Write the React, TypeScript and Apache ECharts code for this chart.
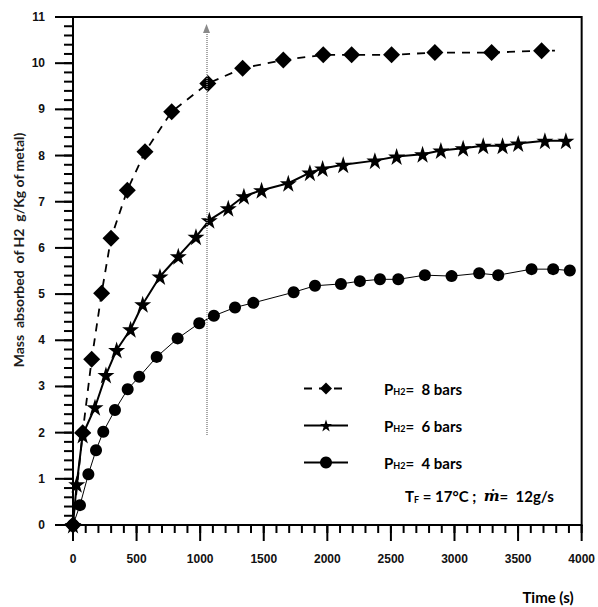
import React, { useEffect, useRef } from "react";
import * as echarts from "echarts";

// ---- data ----
const time8 = [0, 76, 147, 225, 299, 427, 566, 776, 1060, 1334, 1654, 1968, 2191, 2505, 2846, 3292, 3685];
const mass8 = [0, 2.0, 3.59, 5.02, 6.21, 7.25, 8.08, 8.95, 9.56, 9.89, 10.07, 10.18, 10.18, 10.18, 10.23, 10.23, 10.27];
const tail8 = [3790, 10.27];

const time6 = [0, 29, 76, 173, 259, 343, 453, 548, 684, 828, 967, 1072, 1221, 1344, 1483, 1693, 1863, 1963, 2125, 2374, 2545, 2749, 2893, 3068, 3226, 3378, 3501, 3711, 3876];
const mass6 = [0, 0.88, 1.95, 2.55, 3.25, 3.79, 4.24, 4.78, 5.38, 5.82, 6.24, 6.6, 6.86, 7.12, 7.25, 7.4, 7.63, 7.72, 7.8, 7.89, 7.98, 8.03, 8.11, 8.16, 8.21, 8.21, 8.26, 8.32, 8.32];

const time4 = [0, 55, 121, 181, 238, 330, 430, 521, 658, 823, 993, 1108, 1274, 1418, 1735, 1903, 2107, 2256, 2414, 2558, 2767, 2977, 3194, 3344, 3606, 3776, 3907];
const mass4 = [0, 0.43, 1.1, 1.62, 2.02, 2.49, 2.94, 3.21, 3.64, 4.04, 4.37, 4.53, 4.71, 4.81, 5.04, 5.18, 5.22, 5.28, 5.32, 5.32, 5.41, 5.39, 5.45, 5.41, 5.54, 5.54, 5.51];

const seriesNames = ["8 bars", "6 bars", "4 bars"];
const arrowTime = 1050;
const arrowFrom = 1.95;
const arrowTo = 10.75;

// axis ranges / tick steps
const xTicks = { min: 0, max: 4000, interval: 500, minorInterval: 100 };
const yTicks = { min: 0, max: 11, interval: 1, minorInterval: 0.2 };

const STAR = "path://M50,0 L61.8,35.3 L98.9,35.3 L68.9,57.2 L80.3,92.6 L50,70.7 L19.7,92.6 L31.1,57.2 L1.1,35.3 L38.2,35.3 Z";

const zip = (t: number[], v: number[]) => t.map((x, i) => [x, v[i]]);
const steps = (min: number, max: number, step: number) => {
  const out: number[] = [];
  const n = Math.round((max - min) / step);
  for (let i = 0; i <= n; i++) out.push(Math.round((min + i * step) * 1000) / 1000);
  return out;
};

export default function App() {
  const ref = useRef<HTMLDivElement>(null);
  useEffect(() => {
    if (!ref.current) return;
    const chart = echarts.init(ref.current, null, { renderer: "svg" });
    const calibri = "Lato, 'Open Sans', sans-serif";
    const tickFont = {
      margin: 28,
      color: "#111",
      fontFamily: "'Liberation Sans', Arial, sans-serif",
      fontWeight: "bold",
      fontSize: 12,
      formatter: (v: number) => String(v),
    };
    // tick marks drawn as small rect symbols placed through the axes' scales
    const tickSeries = (data: number[][], size: number[], offset: number[]) => ({
      type: "scatter",
      data,
      symbol: "rect",
      symbolSize: size,
      symbolOffset: offset,
      clip: false,
      silent: true,
      itemStyle: { color: "#000", opacity: 1 },
      z: 1,
    });
    const xMajor = steps(xTicks.min, xTicks.max, xTicks.interval).map((v) => [v, yTicks.min]);
    const xMinor = steps(xTicks.min, xTicks.max, xTicks.minorInterval).map((v) => [v, yTicks.min]);
    const yMajor = steps(yTicks.min, yTicks.max, yTicks.interval).map((v) => [xTicks.min, v]);
    const yMinor = steps(yTicks.min, yTicks.max, yTicks.minorInterval).map((v) => [xTicks.min, v]);

    const option: any = {
      animation: false,
      backgroundColor: "#fff",
      grid: {
        left: 73,
        top: 17,
        right: 16,
        bottom: 82,
        show: true,
        borderColor: "#000",
        borderWidth: 2,
      },
      xAxis: {
        type: "value",
        min: xTicks.min,
        max: xTicks.max,
        interval: xTicks.interval,
        axisLine: { show: true, lineStyle: { color: "#000", width: 2 } },
        axisTick: { show: false },
        splitLine: { show: false },
        axisLabel: tickFont,
      },
      yAxis: {
        type: "value",
        min: yTicks.min,
        max: yTicks.max,
        interval: yTicks.interval,
        axisLine: { show: true, lineStyle: { color: "#000", width: 2 } },
        axisTick: { show: false },
        splitLine: { show: false },
        axisLabel: tickFont,
      },
      legend: {
        orient: "vertical",
        left: 298,
        top: 376,
        itemWidth: 44,
        itemHeight: 15,
        itemGap: 22,
        selectedMode: false,
        data: seriesNames,
        formatter: (name: string) => `{p|P}{s|H2}{p|=  ${name}}`,
        textStyle: {
          padding: [0, 0, 0, 31],
          rich: {
            p: { fontFamily: calibri, fontWeight: "bold", fontSize: 15, color: "#000" },
            s: { fontFamily: calibri, fontWeight: "bold", fontSize: 9, color: "#000", verticalAlign: "bottom", padding: [6, 0, 0, 0] },
          },
        },
      },
      graphic: [
        {
          type: "text",
          x: 18,
          y: 250,
          rotation: Math.PI / 2,
          style: {
            text: "Mass  absorbed  of H2  g/Kg of metal)",
            font: `bold 14px ${calibri}`,
            fill: "#1c1c1c",
            align: "center",
            verticalAlign: "middle",
          },
        },
        {
          type: "text",
          x: 548,
          y: 597,
          style: {
            text: "Time (s)",
            font: `bold 15px ${calibri}`,
            fill: "#000",
            align: "center",
            verticalAlign: "middle",
          },
        },
        {
          type: "text",
          x: 405,
          y: 496,
          style: {
            text: "{p|T}{s|F}{p| = 17°C ;  }{m|ṁ}{p|=  12g/s}",
            verticalAlign: "middle",
            rich: {
              p: { font: `bold 15px ${calibri}`, fill: "#000" },
              s: { font: `bold 9px ${calibri}`, fill: "#000", verticalAlign: "bottom", padding: [6, 0, 0, 0] },
              m: { font: "italic bold 15px 'DejaVu Serif', serif", fill: "#000" },
            },
          },
        },
      ],
      series: [
        {
          name: seriesNames[0],
          type: "line",
          data: [...zip(time8, mass8), { value: tail8, symbol: "none" }],
          symbol: "diamond",
          symbolSize: 17,
          itemStyle: { color: "#000" },
          lineStyle: { color: "#000", width: 1.8, type: [8, 7] },
          z: 3,
          markLine: {
            silent: true,
            symbol: ["none", "triangle"],
            symbolSize: [7, 9],
            label: { show: false },
            lineStyle: { color: "#8a8a8a", width: 1.5, type: [1, 1] },
            data: [[{ coord: [arrowTime, arrowFrom] }, { coord: [arrowTime, arrowTo] }]],
          },
        },
        {
          name: seriesNames[1],
          type: "line",
          data: zip(time6, mass6),
          symbol: STAR,
          symbolSize: 17,
          itemStyle: { color: "#000" },
          lineStyle: { color: "#000", width: 2 },
          z: 4,
        },
        {
          name: seriesNames[2],
          type: "line",
          data: zip(time4, mass4),
          symbol: "circle",
          symbolSize: 12,
          itemStyle: { color: "#000" },
          lineStyle: { color: "#000", width: 1 },
          z: 2,
        },
        tickSeries(xMajor, [2, 16], [0, 8]),
        tickSeries(xMinor, [2, 8], [0, 4]),
        tickSeries(yMajor, [18, 2], [-9, 0]),
        tickSeries(yMinor, [9, 2], [-4.5, 0]),
      ],
    };
    chart.setOption(option);
    return () => chart.dispose();
  }, []);
  return (
    <div
      ref={ref}
      style={{ position: "absolute", left: 0, top: 0, width: 598, height: 607, background: "#fff" }}
    />
  );
}
